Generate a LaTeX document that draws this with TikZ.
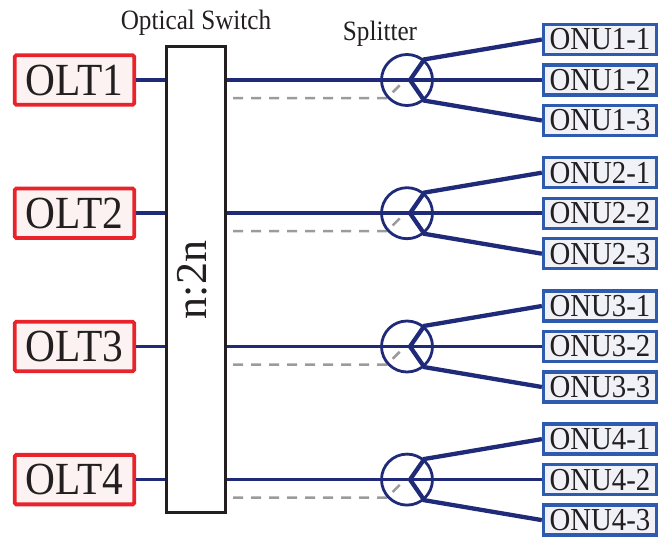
\documentclass[tikz,border=0pt]{standalone}
\usepackage{fontspec}
\setmainfont[FakeStretch=0.9]{Liberation Serif}
\newfontfamily\plainserif{Liberation Serif}
\usetikzlibrary{calc}
\definecolor{navy}{HTML}{1F2A78}
\definecolor{oltred}{HTML}{E8232B}
\definecolor{oltfill}{HTML}{FCF2F2}
\definecolor{onublue}{HTML}{2F5BAE}
\definecolor{onufill}{HTML}{F1F1F8}
\definecolor{txt}{HTML}{231F20}
\definecolor{dashgray}{HTML}{9B9B9B}
\tikzset{
  oltbox/.style={draw=oltred, line width=3.8pt, fill=oltfill, rounded corners=1.5pt,
    minimum width=119.5pt, minimum height=49.5pt, inner sep=0pt, text=txt,
    font=\fontsize{46}{46}\selectfont},
  onubox/.style={draw=onublue, line width=3.3pt, fill=onufill,
    minimum width=113pt, minimum height=30pt, inner sep=0pt, text=txt,
    font=\fontsize{32}{32}\selectfont},
  switchbox/.style={draw=txt, line width=2.8pt, fill=white,
    minimum width=59.5pt, minimum height=466.5pt, inner sep=0pt},
  splitcirc/.style={circle, draw=navy, line width=2.8pt, minimum size=51pt, inner sep=0pt},
  fib/.style={draw=navy, line width=3.5pt},
  branch/.style={draw=navy, line width=4.3pt},
  backup/.style={draw=dashgray, line width=2.5pt, dash pattern=on 10pt off 8pt},
  lbl/.style={text=txt, anchor=base, inner sep=0pt, font=\fontsize{28}{28}\selectfont}
}
\begin{document}
\begin{tikzpicture}[x=1pt,y=-1pt]
\useasboundingbox (0,0) rectangle (659,536);
\node[switchbox] (sw) at (196,279.5) {};
\node[rotate=90, text=txt, inner sep=0pt, font=\plainserif\fontsize{44}{44}\selectfont] (swtext) at (192,280) {n:2n};
\node[lbl] (oslbl) at (196,29) {Optical Switch};
\node[lbl] (splbl) at (380,40) {Splitter};
\foreach \i/\r in {1/80,2/213.2,3/346.5,4/479.6}{
  \node[oltbox] (olt\i) at (74.5,\r) {OLT\i};
  \node[onubox] (onu\i1) at (600,\r-40.5) {ONU\i-1};
  \node[onubox] (onu\i2) at (600,\r) {ONU\i-2};
  \node[onubox] (onu\i3) at (600,\r+40.5) {ONU\i-3};
  \coordinate (swin\i) at (sw.west |- olt\i.east);
  \coordinate (swout\i) at (sw.east |- olt\i.east);
  \coordinate (da\i) at (233,\r+18);
  \coordinate (db\i) at (387,\r+18);
  \coordinate (dc\i) at (403.5,\r+1.5);
  \coordinate (v\i) at (410,\r);
  \draw[backup] (da\i) -- (db\i) -- (dc\i);
  \draw[fib] (olt\i.east) -- (swin\i);
  \draw[fib] (swout\i) -- (onu\i2.west);
  \node[splitcirc] (spl\i) at (407,\r) {};
  \draw[branch, line join=miter] (v\i) -- (spl\i.50) -- (onu\i1.west);
  \draw[branch, line join=miter] (v\i) -- (spl\i.-50) -- (onu\i3.west);
}
\end{tikzpicture}
\end{document}
